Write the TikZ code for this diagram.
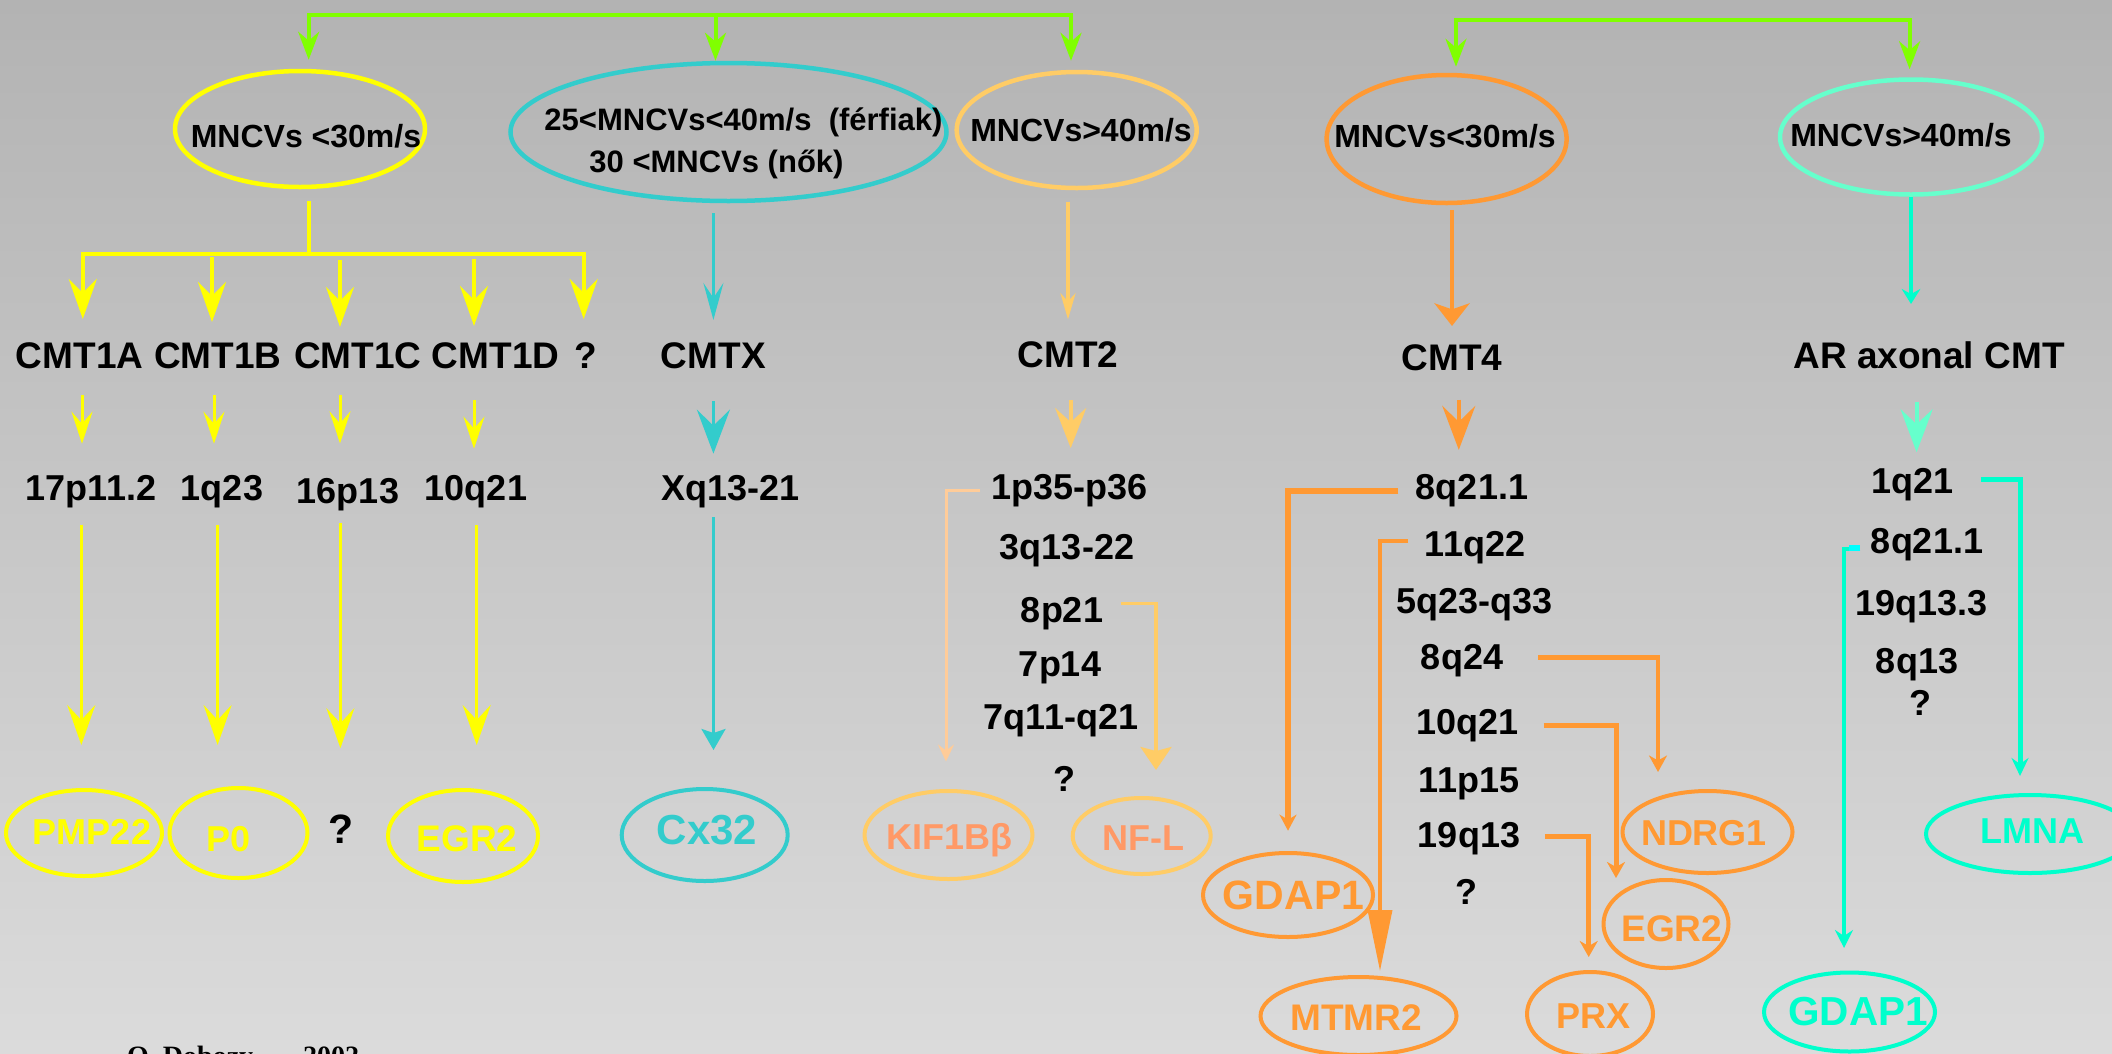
\documentclass[tikz,border=0pt]{standalone}
\usepackage{fontspec}
\setmainfont{Liberation Sans}
\newfontfamily\creditfont{Liberation Serif}
\usetikzlibrary{arrows.meta,shapes.geometric,calc}
\definecolor{bgtop}{HTML}{B3B3B3}
\definecolor{bgbot}{HTML}{DBDBDB}
\definecolor{cgreen}{HTML}{80FF00}
\definecolor{cyel}{HTML}{FFFF00}
\definecolor{ccyan}{HTML}{33CCCC}
\definecolor{clor}{HTML}{FFCC66}
\definecolor{cpeach}{HTML}{FFCC99}
\definecolor{csalmon}{HTML}{FF9966}
\definecolor{corange}{HTML}{FF9933}
\definecolor{cturq}{HTML}{00FFCC}
\definecolor{caqua}{HTML}{66FFCC}
\definecolor{cstub}{HTML}{00FFFF}
\begin{document}
\begin{tikzpicture}[x=1pt,y=-1pt,
  txt/.style={inner sep=0pt, anchor=base, font=\fontsize{#1}{#1}\selectfont\bfseries},
  ell/.style={ellipse, draw, inner sep=0pt, line width=4pt},
  ahead/.style n args={3}{-{Stealth[length=#1pt,width=#2pt,inset=#3pt]}},
  ln/.style={line width=#1pt},
]
\fill[top color=bgtop, bottom color=bgbot] (0,0) rectangle (2112,1053);
\useasboundingbox (0,0) rectangle (2112,1053);

% ---------- top ellipses ----------
\node[ell, draw=cyel, line width=4.5pt, minimum width=250pt, minimum height=116pt] (e1) at (300,129) {};
\node[ell, draw=ccyan, line width=4.5pt, minimum width=436pt, minimum height=138pt] (e2) at (728.5,132) {};
\node[ell, draw=clor, line width=4.5pt, minimum width=240pt, minimum height=116pt] (e3) at (1076.7,130) {};
\node[ell, draw=corange, line width=4.5pt, minimum width=240pt, minimum height=128pt] (e4) at (1446.6,139) {};
\node[ell, draw=caqua, line width=4.5pt, minimum width=262pt, minimum height=115pt] (e5) at (1911,137) {};

\node[txt=32] (t1) at (306,147) {MNCVs <30m/s};
\node[txt=31] (t2a) at (743.5,130) {25<MNCVs<40m/s\ \ (férfiak)};
\node[txt=31] (t2b) at (716.5,172) {30 <MNCVs (nők)};
\node[txt=32] (t3) at (1081,141.8) {MNCVs>40m/s};
\node[txt=32] (t4) at (1445,147.7) {MNCVs<30m/s};
\node[txt=32] (t5) at (1901,146) {MNCVs>40m/s};

% ---------- row 3 ----------
\node[txt=37] (cmt1a) at (79.6,368) {CMT1A};
\node[txt=37] (cmt1b) at (218,368) {CMT1B};
\node[txt=37] (cmt1c) at (358,368) {CMT1C};
\node[txt=37] (cmt1d) at (495.7,368) {CMT1D};
\node[txt=37] (q1) at (586,368) {?};
\node[txt=37] (cmtx) at (713.4,368) {CMTX};
\node[txt=37] (cmt2) at (1068,367.4) {CMT2};
\node[txt=37] (cmt4) at (1452,370) {CMT4};
\node[txt=37] (ar) at (1929,368.5) {AR axonal CMT};

% ---------- row 4 ----------
\node[txt=36] (l17) at (91,500) {17p11.2};
\node[txt=36] (l1q23) at (222,500) {1q23};
\node[txt=36] (l16) at (348,503.7) {16p13};
\node[txt=36] (l10) at (476,500) {10q21};
\node[txt=36] (xq) at (730.4,500) {Xq13-21};
\node[txt=36] (p1) at (1069.7,499.4) {1p35-p36};
\node[txt=36] (p3) at (1067,559.7) {3q13-22};
\node[txt=36] (p8) at (1062,622.8) {8p21};
\node[txt=36] (p7) at (1060,676) {7p14};
\node[txt=36] (p7q) at (1061,729) {7q11-q21};
\node[txt=36] (pq) at (1064,791) {?};
\node[txt=36] (c8) at (1472,499.7) {8q21.1};
\node[txt=36] (c11) at (1475,556.7) {11q22};
\node[txt=36] (c5) at (1474.6,613.4) {5q23-q33};
\node[txt=36] (c8q24) at (1462,669.3) {8q24};
\node[txt=36] (c10) at (1467.7,734) {10q21};
\node[txt=36] (c11p) at (1469,792.5) {11p15};
\node[txt=36] (c19) at (1469,847.3) {19q13};
\node[txt=36] (cq) at (1466,904) {?};
\node[txt=36] (r1) at (1912.5,493.6) {1q21};
\node[txt=36] (r8) at (1927,553) {8q21.1};
\node[txt=36] (r19) at (1921.6,615) {19q13.3};
\node[txt=36] (r8q) at (1917,673.7) {8q13};
\node[txt=36] (rq) at (1920,715.7) {?};

% ---------- gene ellipses ----------
\node[ell, draw=cyel, minimum width=156pt, minimum height=86pt] (pmp) at (84,833) {};
\node[txt=36, cyel] at (92,844) {PMP22};
\node[ell, draw=cyel, minimum width=138pt, minimum height=90pt] (p0) at (238.5,833) {};
\node[txt=36, cyel] at (229,851) {P0};
\node[txt=41] (gq) at (341,843) {?};
\node[ell, draw=cyel, minimum width=150pt, minimum height=92pt] (egry) at (463,836) {};
\node[txt=37, cyel] at (467,851) {EGR2};
\node[ell, draw=ccyan, minimum width=166pt, minimum height=92pt] (cx) at (704.7,835) {};
\node[txt=42, ccyan] at (707,844) {Cx32};
\node[ell, draw=clor, minimum width=168pt, minimum height=88pt] (kif) at (948.5,835) {};
\node[txt=36, csalmon] at (949,849) {KIF1Bβ};
\node[ell, draw=clor, minimum width=138pt, minimum height=76pt] (nfl) at (1141.7,836) {};
\node[txt=36, csalmon] at (1143.6,850.7) {NF-L};
\node[ell, draw=corange, minimum width=170pt, minimum height=84pt] (gdapL) at (1288,895) {};
\node[txt=41, corange] at (1293.6,909.5) {GDAP1};
\node[ell, draw=corange, minimum width=196pt, minimum height=78pt] (mtmr) at (1358.5,1016) {};
\node[txt=37, corange] at (1356,1030) {MTMR2};
\node[ell, draw=corange, minimum width=126pt, minimum height=84pt] (prx) at (1590,1014) {};
\node[txt=36, corange] at (1593,1028) {PRX};
\node[ell, draw=corange, minimum width=170pt, minimum height=82pt] (ndrg) at (1707.5,832) {};
\node[txt=36, corange] at (1704,845.5) {NDRG1};
\node[ell, draw=corange, minimum width=125pt, minimum height=88pt] (egro) at (1666,924) {};
\node[txt=37, corange] at (1671.7,941) {EGR2};
\node[ell, draw=cturq, minimum width=208pt, minimum height=78pt] (lmna) at (2030,834) {};
\node[txt=36, cturq] at (2032.5,843.7) {LMNA};
\node[ell, draw=cturq, minimum width=171pt, minimum height=79pt] (gdapR) at (1849.5,1012) {};
\node[txt=40.5, cturq] at (1858,1025) {GDAP1};

% ---------- green top connectors ----------
\coordinate (g1) at (715.5,15.2);
\draw[cgreen, ln=4, ahead={28}{21}{9}, shorten >=9pt] (g1) -| ($(e1.north)+(8.7,0)$);
\draw[cgreen, ln=4, ahead={28}{21}{9}] (g1) -- (g1 |- e2.north);
\draw[cgreen, ln=4, ahead={28}{21}{9}, shorten >=9pt] (g1) -| ($(e3.north)+(-5.7,0)$);
\coordinate (g2) at (1683,20.3);
\draw[cgreen, ln=4, ahead={28}{21}{9}, shorten >=6pt] (g2) -| ($(e4.north)+(9.4,0)$);
\draw[cgreen, ln=4, ahead={28}{21}{9}, shorten >=8pt] (g2) -| ($(e5.north)+(-1.4,0)$);

% ---------- yellow tree ----------
\coordinate (ybar) at (309,254);
\draw[cyel, ln=3.5, shorten <=12pt] ($(e1.south)+(9,0)$) -- (ybar);
\draw[cyel, ln=4, ahead={40}{28}{14}, shorten >=23pt] (ybar) -| ($(cmt1a.north)+(3.2,0)$);
\draw[cyel, ln=4, ahead={40}{28}{14}, shorten >=23pt] (ybar) -| ($(q1.north)+(-2.3,0)$);
\draw[cyel, ln=3.5, ahead={40}{28}{14}, shorten <=3pt, shorten >=20pt] ($(ybar -| cmt1b.north)+(-6,0)$) -- ($(cmt1b.north)+(-6,0)$);
\draw[cyel, ln=3.5, ahead={40}{28}{14}, shorten <=6pt, shorten >=15pt] ($(ybar -| cmt1c.north)+(-18,0)$) -- ($(cmt1c.north)+(-18,0)$);
\draw[cyel, ln=3.5, ahead={40}{28}{14}, shorten <=4.6pt, shorten >=16pt] ($(ybar -| cmt1d.north)+(-21.7,0)$) -- ($(cmt1d.north)+(-21.7,0)$);

% row 3 -> row 4
\draw[cyel, ln=3, ahead={32}{21}{12}, shorten <=26pt, shorten >=31pt] ($(cmt1a.south)+(2.4,0)$) -- ($(cmt1a.south |- l17.north)+(2.4,0)$);
\draw[cyel, ln=3, ahead={32}{21}{12}, shorten <=26pt, shorten >=31pt] ($(cmt1b.south)+(-4,0)$) -- ($(cmt1b.south |- l1q23.north)+(-4,0)$);
\draw[cyel, ln=3, ahead={32}{21}{12}, shorten <=26pt, shorten >=35pt] ($(cmt1c.south)+(-18,0)$) -- ($(cmt1c.south |- l16.north)+(-18,0)$);
\draw[cyel, ln=3, ahead={32}{21}{12}, shorten <=31pt, shorten >=26pt] ($(cmt1d.south)+(-21.7,0)$) -- ($(cmt1d.south |- l10.north)+(-21.7,0)$);

% row 4 -> genes
\draw[cyel, ln=3, ahead={40}{28}{15}, shorten <=17pt, shorten >=43pt] ($(l17.south)+(-9.7,0)$) -- ($(l17.south |- pmp.north)+(-9.7,0)$);
\draw[cyel, ln=3, ahead={40}{28}{15}, shorten <=17pt, shorten >=41pt] ($(l1q23.south)+(-4.4,0)$) -- ($(l1q23.south |- p0.north)+(-4.4,0)$);
\draw[cyel, ln=3, ahead={40}{28}{15}, shorten <=11.7pt, shorten >=66pt] ($(l16.south)+(-7.6,0)$) -- ($(l16.south |- gq.north)+(-7.6,0)$);
\draw[cyel, ln=3, ahead={40}{28}{15}, shorten <=17pt, shorten >=43pt] ($(l10.south)+(0.7,0)$) -- ($(l10.south |- egry.north)+(0.7,0)$);

% ---------- cyan column ----------
\draw[ccyan, ln=3.5, ahead={37}{20}{15}, shorten <=10pt, shorten >=22pt] (e2.south -| cmtx.north) -- (cmtx.north);
\draw[ccyan, ln=3.5, ahead={44}{33}{16}, shorten <=32.6pt, shorten >=21pt] (cmtx.south) -- (cmtx.south |- xq.north);
\draw[ccyan, ln=3, ahead={21}{24}{4}, shorten <=9.4pt, shorten >=37pt] ($(xq.south)+(-16.9,0)$) -- ($(xq.south |- cx.north)+(-16.9,0)$);

% ---------- CMT2 column ----------
\draw[clor, ln=4, ahead={26}{15}{8}, shorten <=12pt, shorten >=22pt] (e3.south -| cmt2.north) -- (cmt2.north);
\draw[clor, ln=4, ahead={40}{31}{14}, shorten <=31.6pt, shorten >=26pt] ($(cmt2.south)+(2.7,0)$) -- ($(cmt2.south |- p1.north)+(2.7,0)$);
\draw[cpeach, ln=3, ahead={17}{16}{6}, shorten <=11pt, shorten >=27.5pt] (p1.west) -| ($(kif.north)+(-2.5,0)$);
\draw[clor, ln=3.5, ahead={23}{31}{4}, shorten <=18pt, shorten >=26pt] ([yshift=10.7pt]p8.east) -| ($(nfl.north)+(14.3,0)$);

% ---------- CMT4 column ----------
\draw[corange, ln=4, ahead={22.6}{35}{6}, shorten <=5pt, shorten >=18pt] (e4.south -| cmt4.north) -- (cmt4.north);
\draw[corange, ln=4, ahead={44}{33}{16}, shorten <=29pt, shorten >=24.5pt] ($(cmt4.south)+(6.8,0)$) -- ($(cmt4.south |- c8.north)+(6.8,0)$);
\draw[corange, ln=5.5, ahead={16}{17}{5}, shorten <=17.5pt, shorten >=20.3pt] (c8.west) -| (gdapL.north);
\draw[corange, ln=3.5, ahead={61}{24}{0}, shorten <=16.6pt, shorten >=4pt] ([yshift=7pt]c11.west) -| ($(mtmr.north)+(21.5,0)$);
\draw[corange, ln=4.5, ahead={16.5}{18}{5}, shorten <=35pt, shorten >=17pt] ([yshift=3pt]c8q24.east) -| ($(ndrg.north)+(-49.5,0)$);
\draw[corange, ln=5, ahead={16}{18}{5}, shorten <=24.6pt] (c10.east) -| ($(egro.north)+(-50,0)$);
\draw[corange, ln=4.5, ahead={16}{18}{5}, shorten <=24.7pt, shorten >=13pt] ([yshift=2pt]c19.east) -| ($(prx.north)+(-1.3,0)$);

% ---------- AR column ----------
\draw[cturq, ln=4, ahead={15}{18.6}{5}, shorten >=37.5pt] (e5.south) -- (e5.south |- ar.north);
\draw[caqua, ln=4, ahead={43}{32}{15}, shorten <=33pt, shorten >=16pt] ($(ar.south)+(-12.4,0)$) -- ($(ar.south |- r1.north)+(-12.4,0)$);
\draw[cturq, ln=5, ahead={18}{17}{6}, shorten <=27pt, shorten >=17pt] ([yshift=5pt]r1.east) -| ($(lmna.north)+(-10,0)$);
\draw[cturq, ln=3.5, ahead={18}{18}{6}, shorten <=10.6pt, shorten >=22.5pt] ([yshift=-5pt]r8.west) -| ($(gdapR.north)+(-5.5,0)$);
\draw[cstub, ln=6] ([xshift=-10.6pt, yshift=-4pt]r8.west) -- ++(-11.4,0);

% ---------- credit ----------
\node[anchor=base west, inner sep=0pt, font=\creditfont\fontsize{28}{28}\selectfont\bfseries] (credit) at (127,1065) {O. Dobozy\hspace{50pt}2002};
\end{tikzpicture}
\end{document}
